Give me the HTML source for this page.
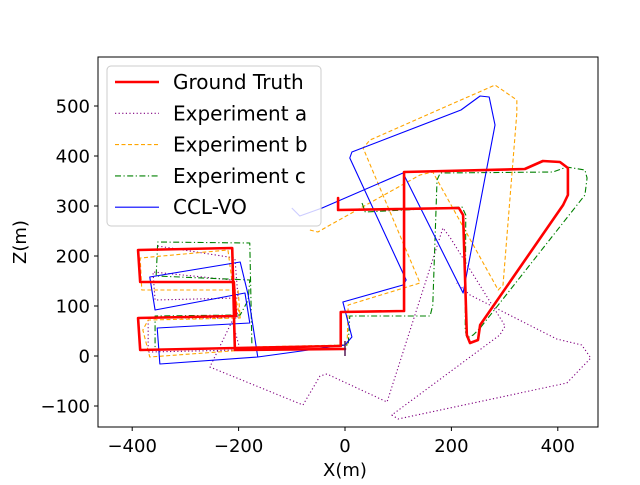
<!DOCTYPE html>
<html><head><meta charset="utf-8"><style>
body{margin:0;background:#fff;}
svg text{font-family:"DejaVu Sans","Liberation Sans",sans-serif;fill:#000;}
</style></head><body>
<svg id="c" width="640" height="480" viewBox="0 0 640 480"></svg>
<script>
const xTicks=[-400,-200,0,200,400];
const yTicks=[-100,0,100,200,300,400,500];
const seriesNames=["Ground Truth","Experiment a","Experiment b","Experiment c","CCL-VO"];
const groundTruth=[[-13,316],[-13,292],[214,296],[222,282],[229,42],[235,26],[250,32],[254,62],[410,302],[419,322],[419,376],[404,388],[372,390],[338,374],[111,368],[111,90],[-8,88],[-8,20],[-205,16],[-385,12],[-389,76],[-205,80],[-209,148],[-385,148],[-389,212],[-212,216],[-207,12],[0,14]];
const expA=[[-352,220],[-207,196],[-201,116],[-357,112],[-361,168],[-212,152],[-201,76],[-370,76],[-370,8],[-197,12],[-212,70],[-254,-22],[-79,-98],[-47,-40],[-34,-36],[79,-92],[184,256],[197,238],[301,60],[291,42],[88,-118],[100,-126],[417,-54],[462,-4],[445,22],[398,34],[235,122],[210,146]];
const expB=[[-66,252],[-51,248],[-28,262],[141,362],[165,368],[288,132],[297,142],[323,486],[323,512],[282,542],[47,432],[34,416],[141,146],[6,102],[4,22],[-179,18],[-188,12],[-367,-2],[-380,52],[-370,72],[-197,76],[-201,132],[-382,132],[-385,196],[-220,212],[-212,146],[-197,76]];
const expC=[[32,306],[38,288],[220,298],[227,282],[226,52],[229,36],[241,42],[254,56],[451,322],[455,356],[451,372],[417,378],[391,368],[179,366],[173,352],[165,102],[160,80],[9,80],[6,22],[-179,16],[-357,12],[-357,80],[-197,82],[-182,112],[-179,152],[-355,160],[-352,228],[-179,226],[-175,22]];
const cclvo=[[-100,296],[-85,280],[-43,296],[109,366],[222,126],[282,462],[271,518],[254,520],[218,492],[13,408],[9,396],[115,152],[109,142],[-4,108],[13,38],[0,22],[-164,-2],[-182,122],[-197,188],[-367,158],[-357,92],[-188,126],[-179,66],[-353,56],[-348,-16],[-164,-2]];

const NS="http://www.w3.org/2000/svg";
const svg=document.getElementById('c');
const X=v=>345+0.532*v, Y=v=>356-0.5*v;
function mk(t,a,p){const e=document.createElementNS(NS,t);for(const k in a)e.setAttribute(k,a[k]);(p||svg).appendChild(e);return e;}
const clip=mk('clipPath',{id:'pc'});mk('rect',{x:98,y:57,width:500,height:370},clip);
const g=mk('g',{'clip-path':'url(#pc)'});
const styles=[
 {d:groundTruth,c:'#ff0000',w:2.6,da:''},
 {d:expA,c:'#800080',w:1.1,da:'1.2,2.4'},
 {d:expB,c:'#ffa500',w:1.1,da:'4,2.5'},
 {d:expC,c:'#008000',w:1.1,da:'6,2.5,1.2,2.5'},
 {d:cclvo,c:'#0000ff',w:1.1,da:''}];
const order=[1,2,3,4,0];
order.forEach(i=>{const s=styles[i];
 const p=mk('polyline',{points:s.d.map(q=>X(q[0])+','+Y(q[1])).join(' '),fill:'none',stroke:s.c,'stroke-width':s.w,'stroke-dasharray':s.da,'stroke-linejoin':'round','stroke-linecap':i===0?'round':'butt'},g);
 
 
});
const stub=mk('line',{x1:X(0),y1:Y(0),x2:X(0),y2:Y(30),stroke:'#551a55','stroke-width':1.5},g);


const frame=mk('rect',{x:98,y:57,width:500,height:370,fill:'none',stroke:'#000','stroke-width':1});


xTicks.forEach(v=>{mk('line',{x1:X(v),x2:X(v),y1:427,y2:431,stroke:'#000'});
 const t=mk('text',{x:X(v),y:452,'text-anchor':'middle','font-size':18});t.textContent=v<0?'\u2212'+(-v):v;
 
 });
yTicks.forEach(v=>{mk('line',{x1:94,x2:98,y1:Y(v),y2:Y(v),stroke:'#000'});
 const t=mk('text',{x:90,y:Y(v)+6.5,'text-anchor':'end','font-size':18});t.textContent=v<0?'\u2212'+(-v):v;
 
 });
const xt=mk('text',{x:345,y:476,'text-anchor':'middle','font-size':18});xt.textContent='X(m)';


const yt=mk('text',{x:26,y:242,'text-anchor':'middle','font-size':18,transform:'rotate(-90 26 242)'});yt.textContent='Z(m)';


const lg=mk('g',{});


mk('rect',{x:107,y:66,width:214,height:160,rx:4,fill:'rgba(255,255,255,0.8)',stroke:'#ccc'},lg);
[0,1,2,3,4].forEach((i,k)=>{const s=styles[i];const y=82+k*31.3;
 const e=mk('g',{},lg);
 
 
 mk('line',{x1:115,x2:159,y1:y,y2:y,stroke:s.c,'stroke-width':s.w,'stroke-dasharray':s.da},e);
 const t=mk('text',{x:173,y:y+7,'font-size':20},e);t.textContent=seriesNames[i];});
</script>
</body></html>
